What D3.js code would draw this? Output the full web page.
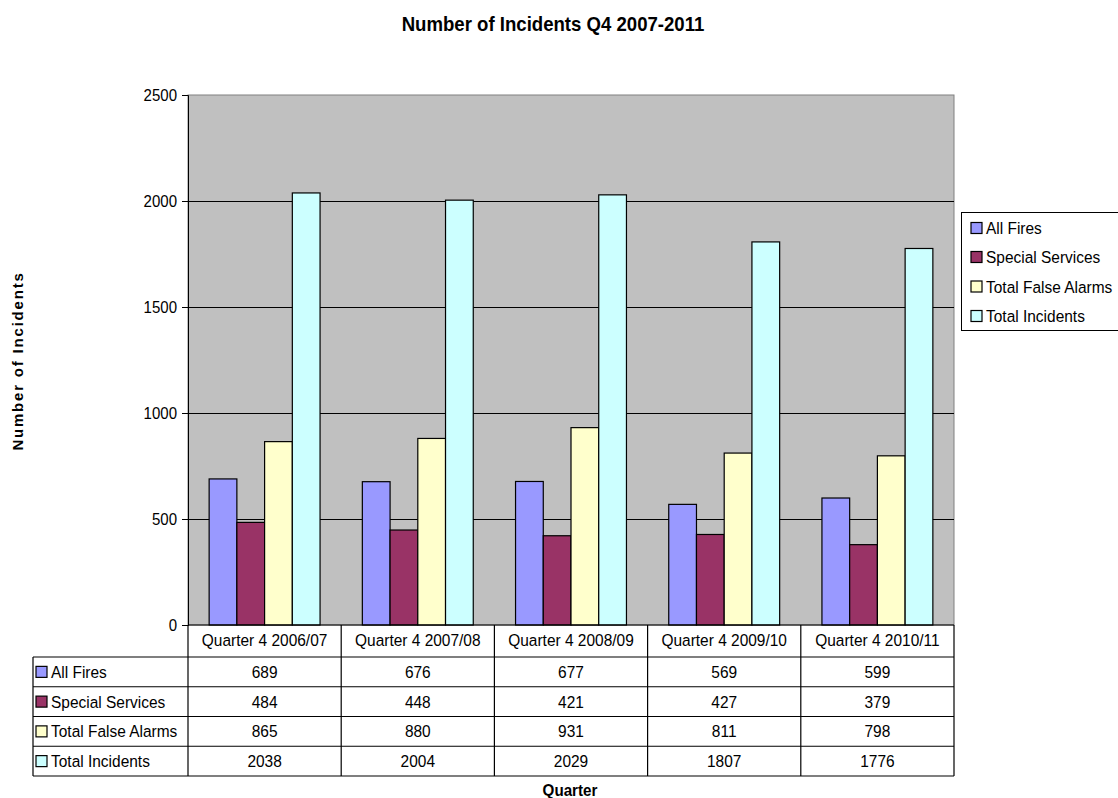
<!DOCTYPE html>
<html>
<head>
<meta charset="utf-8">
<script src="https://cdn.jsdelivr.net/npm/d3@7"></script>
<style>
body { margin: 0; background: #fff; }
text { font-family: "Liberation Sans", Arial, sans-serif; }
</style>
</head>
<body>
<svg id="chart" width="1118" height="798"></svg>
<script>
const categories = ["Quarter 4 2006/07", "Quarter 4 2007/08", "Quarter 4 2008/09", "Quarter 4 2009/10", "Quarter 4 2010/11"];
const seriesNames = ["All Fires", "Special Services", "Total False Alarms", "Total Incidents"];
const allFires = [689, 676, 677, 569, 599];
const specialServices = [484, 448, 421, 427, 379];
const totalFalseAlarms = [865, 880, 931, 811, 798];
const totalIncidents = [2038, 2004, 2029, 1807, 1776];
const seriesColors = ["#9999FF", "#993366", "#FFFFCC", "#CCFFFF"];
const yTicks = [0, 500, 1000, 1500, 2000, 2500];
const chartTitle = "Number of Incidents Q4 2007-2011";
const xTitle = "Quarter";
const yTitle = "Number of Incidents";

const seriesValues = [allFires, specialServices, totalFalseAlarms, totalIncidents];
const series = seriesNames.map((n, i) => ({ name: n, color: seriesColors[i], values: seriesValues[i] }));

const svg = d3.select("#chart");
const plot = { left: 188, right: 954, top: 95, bottom: 625 };

// text helper: slightly narrowed glyphs (taller look of the reference)
function squeeze(sel, sx) {
  sel.each(function () {
    const t = d3.select(this);
    const x = +t.attr("x") || 0, yv = +t.attr("y") || 0;
    const prev = t.attr("transform") || "";
    t.attr("x", 0).attr("y", 0).attr("transform", `${prev} translate(${x},${yv}) scale(${sx},1)`);
  });
}

const x0 = d3.scaleBand().domain(categories).range([plot.left, plot.right])
  .paddingInner(0.276).paddingOuter(0.138);
const x1 = d3.scaleBand().domain(seriesNames).range([0, x0.bandwidth()]);
const y = d3.scaleLinear().domain([0, 2500]).range([plot.bottom, plot.top]);

// plot background
svg.append("rect").attr("x", plot.left).attr("y", plot.top)
  .attr("width", plot.right - plot.left).attr("height", plot.bottom - plot.top)
  .attr("fill", "#C0C0C0").attr("stroke", "#808080").attr("stroke-width", 1);

// gridlines
svg.append("g").selectAll("line").data(yTicks.filter(t => t > 0 && t < 2500)).join("line")
  .attr("x1", plot.left).attr("x2", plot.right)
  .attr("y1", d => Math.round(y(d)) + 0.5).attr("y2", d => Math.round(y(d)) + 0.5)
  .attr("stroke", "#000").attr("stroke-width", 1);

// y axis
const yAxis = d3.axisLeft(y).tickValues(yTicks).tickSize(6).tickPadding(5).tickFormat(d3.format("d"));
const yg = svg.append("g").attr("transform", `translate(${plot.left},0)`).call(yAxis);
yg.select(".domain").attr("stroke", "#000");
yg.selectAll(".tick line").attr("stroke", "#000");
const yTickText = yg.selectAll(".tick text").attr("font-size", "16.5px").attr("fill", "#000")
  .attr("dy", null).attr("y", 5.8)
  .style("font-family", "'Liberation Sans', Arial, sans-serif");
squeeze(yTickText, 0.91);

// bars
const groups = svg.append("g").selectAll("g").data(categories).join("g")
  .attr("transform", d => `translate(${x0(d)},0)`);
groups.selectAll("rect").data((c, ci) => series.map(s => ({ s, v: s.values[ci] }))).join("rect")
  .attr("x", d => x1(d.s.name)).attr("width", x1.bandwidth())
  .attr("y", d => y(d.v)).attr("height", d => y(0) - y(d.v))
  .attr("fill", d => d.s.color).attr("stroke", "#000").attr("stroke-width", 1.2);

// x axis baseline
svg.append("line").attr("x1", plot.left).attr("x2", plot.right)
  .attr("y1", plot.bottom).attr("y2", plot.bottom).attr("stroke", "#000").attr("stroke-width", 1.2);

// data table
const tableLeft = 33;
const headerBottom = 657;
const rowH = 29.75;
const tableBottom = headerBottom + rowH * seriesNames.length;
const step = x0.step();
const colEdges = d3.range(categories.length + 1).map(i => plot.left + i * step);
const tg = svg.append("g");
colEdges.forEach(xe => {
  tg.append("line").attr("x1", xe).attr("x2", xe).attr("y1", plot.bottom).attr("y2", tableBottom)
    .attr("stroke", "#000").attr("stroke-width", 1.2);
});
tg.append("line").attr("x1", tableLeft).attr("x2", tableLeft).attr("y1", headerBottom).attr("y2", tableBottom)
  .attr("stroke", "#000").attr("stroke-width", 1.2);
d3.range(seriesNames.length + 1).forEach(i => {
  const yy = headerBottom + i * rowH;
  tg.append("line").attr("x1", tableLeft).attr("x2", plot.right).attr("y1", yy).attr("y2", yy)
    .attr("stroke", "#000").attr("stroke-width", 1.2);
});
const FS = "17px", SX = 0.91;
tg.selectAll("text.hdr").data(categories).join("text").attr("class", "hdr")
  .attr("x", d => x0(d) + x0.bandwidth() / 2).attr("y", 646)
  .attr("text-anchor", "middle").attr("font-size", FS).text(d => d);
series.forEach((s, i) => {
  const yc = headerBottom + i * rowH + rowH / 2;
  tg.append("rect").attr("x", 36).attr("y", yc - 5.5).attr("width", 11).attr("height", 11)
    .attr("fill", s.color).attr("stroke", "#000").attr("stroke-width", 1.2);
  tg.append("text").attr("class", "cell").attr("x", 51).attr("y", yc + 6).attr("font-size", FS).text(s.name);
  tg.selectAll(null).data(s.values).join("text").attr("class", "cell")
    .attr("x", (v, ci) => x0(categories[ci]) + x0.bandwidth() / 2).attr("y", yc + 6)
    .attr("text-anchor", "middle").attr("font-size", FS).text(v => v);
});
squeeze(tg.selectAll("text"), SX);

// legend
const lg = svg.append("g");
lg.append("rect").attr("x", 961.5).attr("y", 212.5).attr("width", 170).attr("height", 118)
  .attr("fill", "#fff").attr("stroke", "#000").attr("stroke-width", 1);
const legY = [228, 257, 286.5, 316];
series.forEach((s, i) => {
  lg.append("rect").attr("x", 971).attr("y", legY[i] - 5.5).attr("width", 11).attr("height", 11)
    .attr("fill", s.color).attr("stroke", "#000").attr("stroke-width", 1.2);
  lg.append("text").attr("x", 986).attr("y", legY[i] + 6).attr("font-size", FS).text(s.name);
});
squeeze(lg.selectAll("text"), SX);

// titles
const t1 = svg.append("text").attr("x", 553).attr("y", 31).attr("text-anchor", "middle")
  .attr("font-size", "20px").attr("font-weight", "bold").text(chartTitle);
squeeze(t1, 0.93);
const t2 = svg.append("text").attr("x", 570).attr("y", 796).attr("text-anchor", "middle")
  .attr("font-size", "16.5px").attr("font-weight", "bold").text(xTitle);
squeeze(t2, 0.92);
svg.append("text").attr("transform", "translate(23,361) rotate(-90)").attr("text-anchor", "middle")
  .attr("font-size", "15px").attr("font-weight", "bold").attr("letter-spacing", "1.8px").text(yTitle);
</script>
</body>
</html>
